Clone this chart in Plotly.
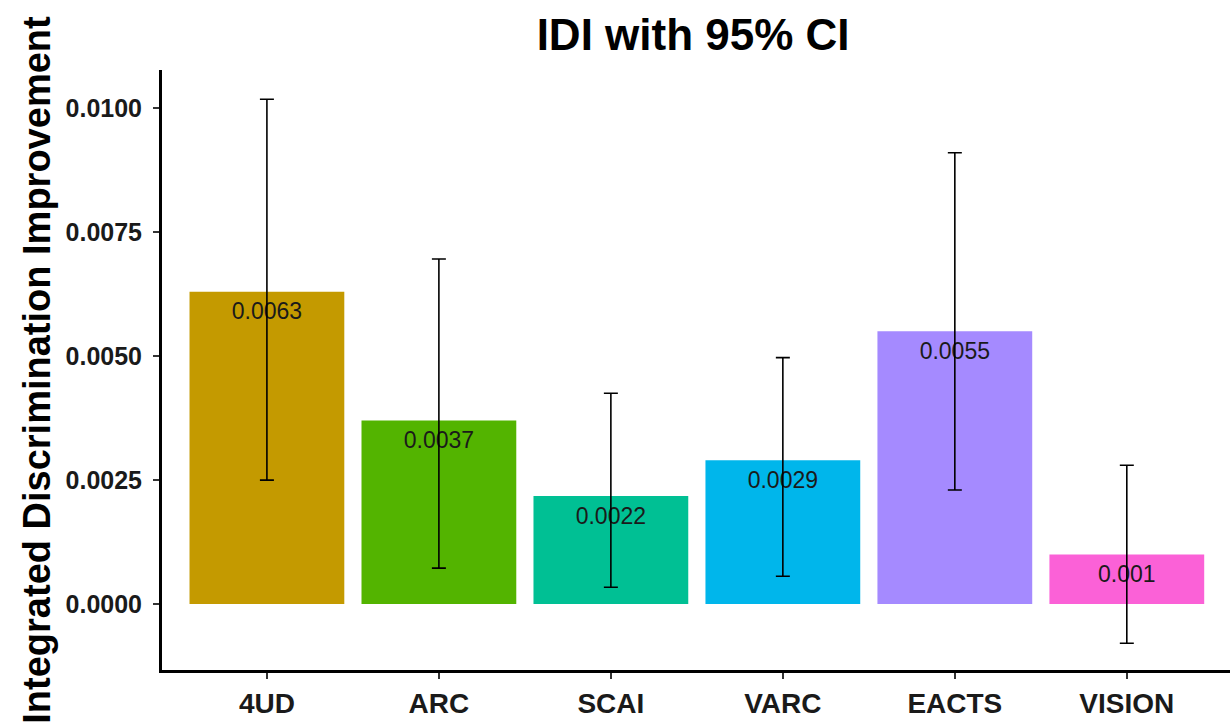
import plotly.graph_objects as go

categories = ["4UD", "ARC", "SCAI", "VARC", "EACTS", "VISION"]
idi_values = [0.0063, 0.0037, 0.00218, 0.0029, 0.0055, 0.0010]
ci_lower = [0.0025, 0.000725, 0.00034, 0.00056, 0.0023, -0.00079]
ci_upper = [0.01018, 0.00696, 0.00425, 0.00497, 0.0091, 0.0028]
value_labels = ["0.0063", "0.0037", "0.0022", "0.0029", "0.0055", "0.001"]
bar_colors = ["#C49A00", "#53B400", "#00C094", "#00B6EB", "#A58AFF", "#FB61D7"]
y_tick_vals = [0.0, 0.0025, 0.0050, 0.0075, 0.0100]
y_tick_text = ["0.0000", "0.0025", "0.0050", "0.0075", "0.0100"]

err_plus = [u - v for u, v in zip(ci_upper, idi_values)]
err_minus = [v - l for v, l in zip(idi_values, ci_lower)]

FONT = "Liberation Sans, Arial, sans-serif"

fig = go.Figure()
fig.add_trace(go.Bar(
    x=categories, y=idi_values, width=0.9,
    marker=dict(color=bar_colors, line=dict(width=0)),
    showlegend=False, hoverinfo="skip",
))
fig.add_trace(go.Scatter(
    x=categories, y=idi_values, mode="text+markers",
    marker=dict(size=15, opacity=0),
    text=value_labels, textposition="bottom center",
    textfont=dict(family=FONT, size=23, color="#1a1a1a"),
    showlegend=False, hoverinfo="skip",
))
fig.add_trace(go.Scatter(
    x=categories, y=idi_values, mode="markers",
    marker=dict(size=1, opacity=0),
    error_y=dict(type="data", array=err_plus, arrayminus=err_minus,
                 symmetric=False, color="black", thickness=1.6, width=7),
    showlegend=False, hoverinfo="skip",
))

fig.update_layout(
    width=1230, height=727,
    margin=dict(l=162, r=0, t=70, b=57),
    paper_bgcolor="white", plot_bgcolor="white",
    title=dict(text="<b>IDI with 95% CI</b>", x=0.5635, xanchor="center",
               y=0.952, yref="container", yanchor="middle",
               font=dict(family=FONT, size=44, color="black")),
    bargap=0.1,
)
fig.update_xaxes(
    range=[-0.61, 5.6], showline=True, linecolor="black", linewidth=3,
    ticks="outside", ticklen=6, tickwidth=2, tickcolor="#333333",
    tickfont=dict(family=FONT, size=28, color="#1a1a1a", weight="bold"),
    showgrid=False, zeroline=False, fixedrange=True,
)
fig.update_yaxes(
    range=[-0.00133, 0.01077], showline=True, linecolor="black", linewidth=3,
    tickmode="array", tickvals=y_tick_vals, ticktext=y_tick_text,
    ticks="outside", ticklen=6, tickwidth=2, tickcolor="#333333",
    ticklabelstandoff=6,
    tickfont=dict(family=FONT, size=25, color="#1a1a1a", weight="bold"),
    showgrid=False, zeroline=False,
    title=dict(text="<b>Integrated Discrimination Improvement</b>",
               font=dict(family=FONT, size=38, color="black"), standoff=4),
)

fig.write_html("out.html")
